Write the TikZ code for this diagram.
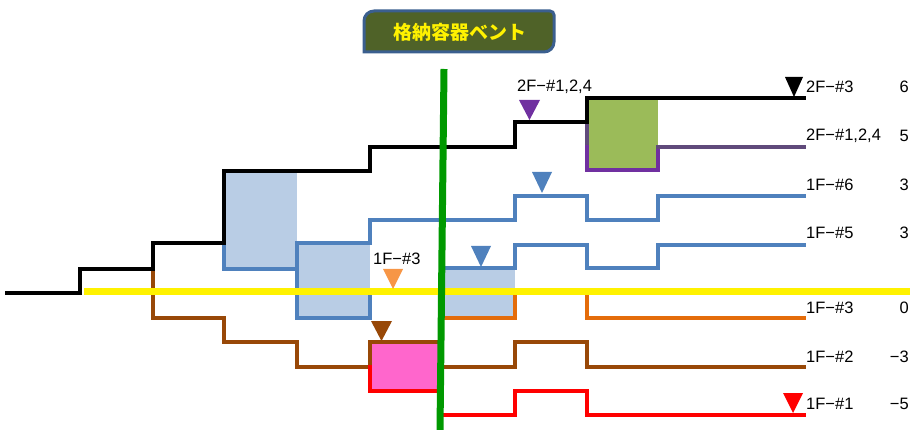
\documentclass[tikz,border=0pt]{standalone}
\usepackage{fontspec}
\setmainfont{Liberation Sans}
\newfontfamily\cjk{Noto Sans CJK JP}
\definecolor{blueL}{HTML}{4F81BD}
\definecolor{fillB}{HTML}{B9CDE5}
\definecolor{orangeL}{HTML}{E46C0A}
\definecolor{orangeT}{HTML}{F79646}
\definecolor{brownL}{HTML}{984807}
\definecolor{purpleL}{HTML}{7030A0}
\definecolor{purpleG}{HTML}{604A7B}
\definecolor{greenBox}{HTML}{9BBB59}
\definecolor{pinkBox}{HTML}{FF66CC}
\definecolor{greenL}{HTML}{009900}
\definecolor{titleFill}{HTML}{4F6228}
\definecolor{titleBorder}{HTML}{3B5F8F}
\begin{document}
\begin{tikzpicture}[x=1pt,y=-1pt,
  ln/.style={line width=3.2pt,line cap=rect,line join=miter},
  lbl/.style={anchor=west,inner sep=0pt,font=\fontsize{16.5}{17}\selectfont},
  num/.style={anchor=east,inner sep=0pt,font=\fontsize{16.5}{17}\selectfont}]
\useasboundingbox (0,0) rectangle (910,430);
% shaded boxes
\fill[fillB] (224,171) rectangle (297,269);
\fill[fillB] (297,243) rectangle (370,318);
\fill[fillB] (444,268) rectangle (515,318);
\fill[greenBox] (587,98) rectangle (658,170);
\fill[pinkBox] (370,342) rectangle (442,391);
% blue lines
\draw[ln,blueL] (224,243) -- (224,269) -- (297,269);
\draw[ln,blueL] (370,295) -- (370,318) -- (297,318) -- (297,243) -- (370,243);
\draw[ln,blueL] (370,243) -- (370,220) -- (515,220) -- (515,196) -- (587,196) -- (587,220) -- (658,220) -- (658,196) -- (804,196);
\draw[ln,blueL] (444,268) -- (515,268) -- (515,245) -- (587,245) -- (587,268) -- (658,268) -- (658,245) -- (804,245);
% orange
\draw[ln,orangeL] (444,318) -- (515,318) -- (515,295);
\draw[ln,orangeL] (587,295) -- (587,318) -- (804,318);
% brown
\draw[ln,brownL] (153,269) -- (153,318) -- (224,318) -- (224,342) -- (297,342) -- (297,367) -- (370,367) -- (370,342) -- (442,342);
\draw[ln,brownL] (442,367) -- (515,367) -- (515,342) -- (587,342) -- (587,367) -- (804,367);
% red
\draw[ln,red] (370,367) -- (370,391) -- (442,391);
\draw[ln,red] (442,415) -- (515,415) -- (515,391) -- (587,391) -- (587,415) -- (804,415);
% purple
\draw[ln,purpleG] (587,122) -- (587,147);
\draw[ln,purpleL] (587,147) -- (587,170) -- (658,170) -- (658,147);
\draw[ln,purpleG] (658,147) -- (804,147);
% black
\draw[ln,black] (7,293) -- (80,293) -- (80,269) -- (153,269) -- (153,243) -- (224,243) -- (224,171) -- (370,171) -- (370,147) -- (515,147) -- (515,122) -- (587,122) -- (587,98) -- (804,98);
% yellow
\draw[line width=7pt,yellow] (84,292) -- (910,292);
% green vertical
\draw[line width=7pt,greenL] (444,69) -- (440,430);
% triangles
\fill[black] (785,77) -- (803,77) -- (794,97) -- cycle;
\fill[purpleL] (519,100) -- (540,100) -- (529.5,120) -- cycle;
\fill[blueL] (532,172) -- (552,172) -- (542,193) -- cycle;
\fill[blueL] (471,246) -- (491,246) -- (481,267) -- cycle;
\fill[orangeT] (383,269) -- (403,269) -- (393,289) -- cycle;
\fill[brownL] (371,321) -- (392,321) -- (381.5,341) -- cycle;
\fill[red] (783,393) -- (803,393) -- (793,413) -- cycle;
% labels
\node[lbl] (l1) at (806,87) {2F−\#3};
\node[lbl] (l2) at (806,136) {2F−\#1,2,4};
\node[lbl] (l3) at (806,185) {1F−\#6};
\node[lbl] (l4) at (806,233) {1F−\#5};
\node[lbl] (l5) at (806,308) {1F−\#3};
\node[lbl] (l6) at (806,357) {1F−\#2};
\node[lbl] (l7) at (806,404) {1F−\#1};
\node[num] (n1) at (909,87) {6};
\node[num] (n2) at (909,136) {5};
\node[num] (n3) at (909,185) {3};
\node[num] (n4) at (909,233) {3};
\node[num] (n5) at (909,308) {0};
\node[num] (n6) at (909,357) {−3};
\node[num] (n7) at (909,404) {−5};
\node[lbl] (t1) at (517,87) {2F−\#1,2,4};
\node[lbl] (t2) at (373,259) {1F−\#3};
% title
\draw[line width=3pt,titleBorder,fill=titleFill]
  (364,52) [rounded corners=10pt] -- (364,11) [rounded corners=4pt] -- (554,11) [rounded corners=10pt] -- (554,52) [sharp corners] -- cycle;
\node[text=yellow,font=\cjk\bfseries\fontsize{19}{20}\selectfont,inner sep=0pt] (title) at (460,32) {格納容器ベント};
\end{tikzpicture}
\end{document}
